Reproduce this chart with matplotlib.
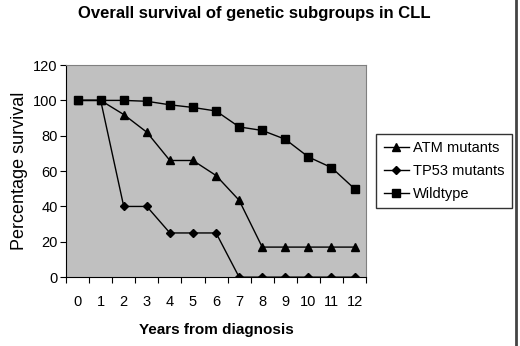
import numpy as np
import matplotlib
matplotlib.use('Agg')
import matplotlib.pyplot as plt
from matplotlib.lines import Line2D

plt.rcParams['font.family'] = ['Liberation Sans', 'DejaVu Sans']

years = list(range(13))
atm = [100, 100, 92, 82, 66, 66, 57.5, 43.5, 17, 17, 17, 17, 17]
tp53 = [100, 100, 40, 40, 25, 25, 25, 0, 0, 0, 0, 0, 0]
wildtype = [100, 100, 100, 99.5, 97.5, 96, 94, 85, 83, 78, 68, 62, 50]
labels = ['ATM mutants', 'TP53 mutants', 'Wildtype']

fig = plt.figure(figsize=(5.2, 3.46), dpi=100)
ax = fig.add_axes([0.127, 0.199, 0.577, 0.613])
ax.set_facecolor('#c0c0c0')

ax.plot(years, atm, color='black', lw=1, marker='^', ms=6, label=labels[0])
ax.plot(years, tp53, color='black', lw=1, marker='D', ms=4, label=labels[1])
ax.plot(years, wildtype, color='black', lw=1, marker='s', ms=6, label=labels[2])

ax.set_xlim(-0.5, 12.5)
ax.set_ylim(0, 120)
ax.set_yticks(range(0, 121, 20))
ax.set_xticks(np.arange(-0.5, 13, 1))
ax.set_xticklabels([])
ax.set_xticks(years, minor=True)
ax.set_xticklabels([str(y) for y in years], minor=True, fontsize=10.5)
ax.tick_params(axis='x', which='minor', length=0, pad=13)
ax.tick_params(axis='x', which='major', length=4, direction='out')
ax.tick_params(axis='y', length=4, labelsize=10.5, pad=2)

for s in ['top', 'right']:
    ax.spines[s].set_color('#808080')
for s in ['left', 'bottom']:
    ax.spines[s].set_color('black')

ax.set_xlabel('Years from diagnosis', fontsize=11, fontweight='bold', labelpad=10)
ax.set_ylabel('Percentage survival', fontsize=13, labelpad=4)
fig.text(0.49, 0.96, 'Overall survival of genetic subgroups in CLL', ha='center', va='center',
         fontsize=12, fontweight='bold')

leg = fig.legend(loc='center', bbox_to_anchor=(0.854, 0.506), fontsize=10.5, frameon=True,
                 fancybox=False, edgecolor='black', handlelength=1.7, handletextpad=0.3,
                 borderpad=0.5, labelspacing=0.6, borderaxespad=0)
leg.get_frame().set_linewidth(1)

fig.add_artist(Line2D([0.992, 0.992], [0, 1], color='#444444', lw=2, transform=fig.transFigure))

fig.savefig('out.png', dpi=100)
